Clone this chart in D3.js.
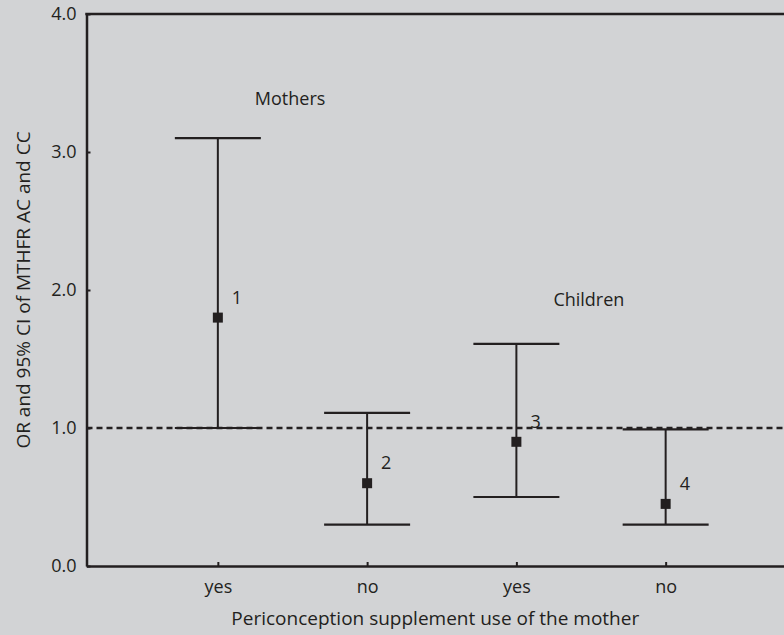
<!DOCTYPE html>
<html>
<head>
<meta charset="utf-8">
<script src="https://cdn.jsdelivr.net/npm/d3@7"></script>
<style>
  html, body { margin: 0; padding: 0; background: #d2d3d5; }
  svg { display: block; }
  text { font-family: "Open Sans", sans-serif; fill: #231f20; }
</style>
</head>
<body>
<div id="container"></div>
<script>
// Data
let supplementUse = ["yes", "no", "yes", "no"];
let pointIds = ["1", "2", "3", "4"];
let oddsRatio = [1.8, 0.6, 0.9, 0.45];
let ciLower = [1.0, 0.3, 0.5, 0.3];
let ciUpper = [3.1, 1.11, 1.61, 0.99];
let groupNames = ["Mothers", "Children"];
let groupValueY = [3.34, 1.884];
let yTicks = [0, 1, 2, 3, 4];

let rows = supplementUse.map((s, i) => ({
  i: i, use: s, id: pointIds[i], or: oddsRatio[i], lo: ciLower[i], hi: ciUpper[i]
}));

// Set up SVG
let W = 784, H = 635;
let margin = { top: 14, right: 0, bottom: 69, left: 86.5 };
let ink = "#231f20";

let svg = d3.select("#container")
  .append("svg")
  .attr("width", W)
  .attr("height", H);

let x = d3.scalePoint()
  .domain(d3.range(supplementUse.length))
  .range([margin.left, 797])
  .padding(0.88);

let y = d3.scaleLinear()
  .domain([0, 4])
  .range([H - margin.bottom, margin.top]);

// Axes
let yAxis = svg.append("g")
  .attr("transform", `translate(${margin.left},0)`)
  .call(d3.axisLeft(y).tickValues(yTicks).tickFormat(d3.format(".1f"))
    .tickSizeInner(-4).tickSizeOuter(0).tickPadding(10));

let xAxis = svg.append("g")
  .attr("transform", `translate(0,${y(0)})`)
  .call(d3.axisBottom(x).tickFormat((d) => supplementUse[d])
    .tickSizeInner(-4).tickSizeOuter(0).tickPadding(14));

[yAxis, xAxis].forEach((g) => {
  g.select(".domain").attr("stroke", ink).attr("stroke-width", 2.5);
  g.selectAll(".tick line").attr("stroke", ink).attr("stroke-width", 2);
  g.selectAll(".tick text").attr("fill", ink).style("font-size", "18px")
    .style("font-family", "'Open Sans', sans-serif");
});

// top frame line
svg.append("line")
  .attr("x1", margin.left - 1.25).attr("x2", W)
  .attr("y1", y(4)).attr("y2", y(4))
  .attr("stroke", ink).attr("stroke-width", 2.5);

// reference line at OR = 1
svg.append("line")
  .attr("x1", margin.left).attr("x2", W)
  .attr("y1", y(1)).attr("y2", y(1))
  .attr("stroke", ink).attr("stroke-width", 2.5)
  .attr("stroke-dasharray", "6,4");

// Error bars
let capHalf = 43;
let bars = svg.append("g").selectAll("g")
  .data(rows)
  .enter()
  .append("g");

bars.append("line")
  .attr("x1", (d) => x(d.i)).attr("x2", (d) => x(d.i))
  .attr("y1", (d) => y(d.lo)).attr("y2", (d) => y(d.hi))
  .attr("stroke", ink).attr("stroke-width", 2);

bars.selectAll(".cap")
  .data((d) => [d.lo, d.hi].map((v) => ({ i: d.i, v: v })))
  .enter()
  .append("line")
  .attr("class", "cap")
  .attr("x1", (d) => x(d.i) - capHalf).attr("x2", (d) => x(d.i) + capHalf)
  .attr("y1", (d) => y(d.v)).attr("y2", (d) => y(d.v))
  .attr("stroke", ink).attr("stroke-width", 2.2);

bars.append("rect")
  .attr("x", (d) => x(d.i) - 5)
  .attr("y", (d) => y(d.or) - 5)
  .attr("width", 10).attr("height", 10)
  .attr("fill", ink);

bars.append("text")
  .attr("x", (d) => x(d.i) + 14)
  .attr("y", (d) => y(d.or) - 14)
  .style("font-size", "18px")
  .text((d) => d.id);

// Group labels, above the first bar of each pair
svg.selectAll(".group")
  .data(groupNames)
  .enter()
  .append("text")
  .attr("class", "group")
  .attr("x", (d, k) => x(k * 2) + 37)
  .attr("y", (d, k) => y(groupValueY[k]))
  .style("font-size", "18px")
  .text((d) => d);

// Axis titles
svg.append("text")
  .attr("x", (margin.left + W) / 2)
  .attr("y", 625)
  .attr("text-anchor", "middle")
  .style("font-size", "19px")
  .text("Periconception supplement use of the mother");

svg.append("text")
  .attr("transform", `translate(30,${(y(0) + y(4)) / 2}) rotate(-90)`)
  .attr("text-anchor", "middle")
  .style("font-size", "19px")
  .text("OR and 95% CI of MTHFR AC and CC");
</script>
</body>
</html>
